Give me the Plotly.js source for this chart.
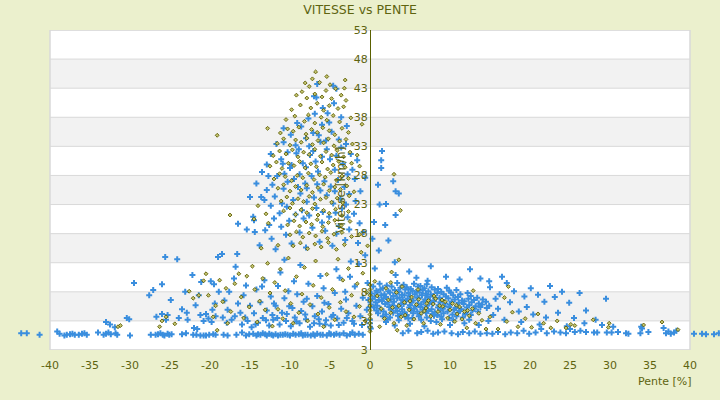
<!DOCTYPE html>
<html>
<head>
<meta charset="utf-8">
<script src="https://cdn.plot.ly/plotly-3.0.1.min.js"></script>
<style>
  html, body {margin: 0; padding: 0; background: #EBF0CD;}
  #graph {width: 720px; height: 400px;}
</style>
</head>
<body>
<div id="graph"></div>
<script>
//axis ticks
const xTicks = [-40, -35, -30, -25, -20, -15, -10, -5, 0, 5, 10, 15, 20, 25, 30, 35, 40]
const yTicks = [-2, 3, 8, 13, 18, 23, 28, 33, 38, 43, 48, 53]
const yTickLabels = ['3', '3', '8', '13', '18', '23', '28', '33', '38', '43', '48', '53']

//blue series, [pente, vitesse]
const blueFloor = [
  [-43.6,0.9],[-42.9,0.9],[-41.3,0.6],[-39.1,1.2],[-38.8,0.8],[-38.2,0.5],[-37.9,0.6],[-37.5,0.7],[-37.2,0.8],[-36.9,0.6],
  [-36.4,0.6],[-36.0,0.8],[-35.7,0.9],[-35.4,0.6],[-34.0,1.0],[-33.3,0.6],[-33.0,0.8],[-32.7,1.0],[-32.4,0.7],[-31.8,0.9],
  [-31.6,0.6],[-30.0,0.5],[-27.4,0.6],[-26.8,0.6],[-26.5,0.7],[-26.2,0.9],[-25.9,0.6],[-25.7,0.5],[-25.3,0.8],[-25.1,0.6],
  [-24.8,0.7],[-23.5,0.7],[-23.0,0.9],[-22.1,0.6],[-21.7,0.6],[-21.2,0.5],[-20.8,0.5],[-20.5,0.5],[-20.1,0.6],[-19.6,0.7],
  [-19.3,0.6],[-18.3,0.6],[-17.8,0.5],[-16.7,0.6],[-16.0,1.0],[-15.5,0.5],[-15.1,0.7],[-14.6,0.8],[-14.2,0.5],[-13.7,0.6],
  [-13.4,0.9],[-12.9,0.5],[-12.3,0.6],[-11.8,0.7],[-11.5,0.5],[-11.2,0.6],[-10.9,0.6],[-10.6,0.7],[-10.3,0.6],[-10.0,0.5],
  [-9.6,0.8],[-9.3,0.6],[-8.9,0.7],[-8.4,0.5],[-8.1,0.6],[-7.8,0.6],[-7.4,0.5],[-7.1,0.7],[-6.6,0.8],[-6.2,0.6],
  [-5.9,0.6],[-5.4,0.5],[-4.9,0.7],[-4.5,0.6],[-4.2,0.8],[-3.8,0.6],[-3.3,0.9],[-2.9,0.5],[-2.5,0.7],[-1.9,0.6],
  [-1.4,0.8],[-0.9,0.6],[-14.0,0.7],[-13.1,0.7],[-12.6,0.8],[-12.1,0.5],[-8.6,0.9],[-6.9,0.5],[-5.1,0.9],[-2.2,1.0],
  [4.1,0.9],[4.8,1.3],[5.9,0.9],[6.4,1.1],[7.2,1.3],[7.9,0.8],[8.5,1.0],[9.3,1.2],[10.2,0.9],[11.0,0.7],
  [11.6,1.1],[12.4,0.9],[13.1,1.2],[13.8,0.8],[14.6,0.9],[15.3,0.8],[16.0,1.1],[16.9,0.7],[17.6,1.0],[18.4,0.9],
  [19.2,1.3],[19.9,0.8],[20.7,1.0],[21.4,1.6],[22.1,0.9],[23.0,1.2],[23.8,1.0],[24.5,0.9],[25.0,1.6],[25.6,1.1],
  [26.3,1.3],[27.0,1.1],[28.0,1.0],[28.4,1.0],[29.6,1.0],[30.2,1.0],[31.0,1.1],[32.0,0.9],[32.3,0.8],[33.8,0.9],
  [34.0,1.7],[34.8,1.1],[36.7,1.8],[37.0,0.9],[37.3,1.2],[37.6,0.8],[38.0,1.0],[38.3,1.3],[40.5,0.8],[41.5,0.8],
  [42.0,0.7],[43.0,0.7],[43.6,0.9]
]
const blueLow = [
  [-33.0,2.8],[-32.5,2.4],[-31.9,1.9],[-30.4,3.5],[-30.1,3.3],[-29.5,9.5],[-27.6,7.4],[-27.1,8.3],[-26.7,3.7],[-26.0,9.3],
  [-26.0,4.2],[-25.6,14.0],[-25.5,3.2],[-25.3,4.0],[-24.9,6.6],[-24.1,13.6],[-23.9,3.5],[-23.5,5.0],[-23.1,8.0],[-22.9,4.4],
  [-22.8,3.2],[-22.2,10.9],[-22.0,1.8],[-21.6,1.6],[-21.4,7.4],[-21.2,4.0],[-21.1,9.7],[-20.8,3.0],[-20.5,4.2],[-20.2,3.4],
  [-19.9,9.8],[-19.7,4.9],[-19.5,9.3],[-19.3,3.8],[-19.0,14.0],[-18.9,8.0],[-18.5,14.5],[-18.4,3.6],[-18.2,6.5],[-17.8,4.9],
  [-17.6,8.0],[-17.3,3.2],[-17.0,10.3],[-16.6,14.5],[-16.5,6.0],[-16.2,4.4],[-16.0,2.4],[-15.8,7.4],[-15.5,9.1],[-15.3,3.0],
  [-15.0,5.6],[-14.8,1.9],[-14.5,4.3],[-14.2,8.4],[-14.0,2.7],[-13.7,6.2],[-13.4,3.5],[-13.2,10.0],[-12.9,4.8],[-12.6,2.2],
  [-12.4,7.2],[-12.1,3.2],[-11.8,5.6],[-11.5,9.0],[-11.3,2.4],[-11.0,4.4],[-10.7,6.9],[-10.5,3.0],[-10.2,8.1],[-9.9,2.1],
  [-9.7,5.2],[-9.4,3.6],[-9.1,7.6],[-8.8,2.6],[-8.6,4.7],[-8.3,6.3],[-8.0,3.3],[-7.7,9.4],[-7.5,2.0],[-7.2,5.5],
  [-6.9,3.8],[-6.6,7.3],[-6.3,2.5],[-6.0,4.6],[-5.8,8.6],[-5.5,3.1],[-5.2,5.9],[-4.9,2.2],[-4.6,4.0],[-4.4,7.8],
  [-4.1,3.4],[-3.8,10.4],[-3.6,5.1],[-3.3,2.7],[-3.0,6.7],[-2.7,4.3],[-2.4,13.2],[-2.2,3.0],[-1.9,8.9],[-1.7,5.6],
  [-1.4,12.8],[-1.2,3.8],[-0.9,7.0],[-0.6,14.3],[-0.4,4.9],[-1.0,2.3],[-0.3,9.5],[-15.6,3.6],[-14.3,2.4],[-13.0,3.1],
  [-12.2,4.0],[-11.6,3.5],[-10.4,4.2],[-9.2,2.9],[-8.1,4.1],[-7.0,2.6],[-6.4,3.3],[-5.6,2.4],[-4.8,3.7],[-3.9,2.3],
  [-2.9,3.5],[-2.0,2.5],[-17.9,2.7],[-19.8,2.8],[-16.9,3.8],[-12.0,6.0],[-10.1,5.5],[-7.9,6.8],[-5.7,6.1],[-13.5,8.9],
  [-9.5,9.8],[-6.2,10.7],[-4.2,11.9],[-8.7,12.6],[-11.2,11.3],[-3.1,8.0],[-2.5,10.6],[-19.4,6.0],[-21.8,5.7],[-16.8,12.3]
]
const bluePeak = [
  [-6.6,43.7],[-7.0,41.6],[-6.7,41.4],[-5.9,39.6],[-5.3,38.7],[-4.6,43.4],[-4.2,42.9],[-7.1,35.3],[-9.1,37.0],[-10.8,36.1],
  [-10.8,33.7],[-12.4,31.7],[-11.1,30.8],[-8.0,34.4],[-7.6,33.0],[-6.2,33.8],[-5.4,32.5],[-4.8,35.5],[-3.9,34.2],[-3.0,33.4],
  [-2.4,31.7],[-1.6,30.6],[-0.6,27.6],[-2.2,29.0],[-3.4,30.0],[-4.4,29.0],[-5.0,30.8],[-6.0,31.2],[-6.8,30.4],[-7.5,31.5],
  [-8.4,30.1],[-9.2,31.8],[-10.0,29.3],[-10.7,28.3],[-11.6,27.9],[-12.2,26.4],[-12.9,25.5],[-11.9,24.4],[-10.8,25.7],[-10.3,26.9],
  [-9.5,27.4],[-8.8,28.2],[-8.1,26.6],[-7.3,27.9],[-6.5,28.7],[-5.7,27.0],[-4.9,26.1],[-4.0,27.2],[-3.2,26.0],[-2.6,24.8],
  [-1.8,23.6],[-1.2,25.3],[-3.7,24.0],[-4.6,23.2],[-5.4,24.6],[-6.2,25.4],[-7.0,24.2],[-7.9,23.5],[-8.7,24.9],[-9.6,23.8],
  [-10.4,22.6],[-11.3,21.5],[-12.0,20.6],[-12.6,19.5],[-13.1,18.6],[-11.1,19.2],[-10.1,20.2],[-9.3,21.3],[-8.5,22.0],[-7.6,21.1],
  [-6.7,22.4],[-5.9,21.7],[-5.1,20.9],[-4.3,21.6],[-3.5,22.3],[-2.8,20.8],[-2.0,21.4],[-1.3,19.8],[-2.6,18.7],[-3.9,19.3],
  [-5.6,18.5],[-7.2,19.0],[-8.8,18.2],[-10.5,17.8],[-12.3,17.1],[-13.8,16.0],[-11.8,15.3],[-9.8,16.3],[-8.0,15.6],[-6.3,16.6],
  [-4.7,15.9],[-3.1,16.9],[-1.5,16.4],[-0.8,18.3],[-14.6,20.9],[-15.4,18.7],[-16.5,19.7],[-9.9,35.0],[-8.6,36.4],[-7.7,37.8],
  [-6.9,38.6],[-6.0,36.7],[-5.1,37.1],[-4.5,40.4],[-3.6,38.0],[-2.9,36.5],[-9.3,33.2],[-10.3,32.0],[-11.7,33.4],[-12.9,29.9],
  [-13.5,28.6],[-12.7,27.9],[-10.9,30.0],[-9.8,29.8],[-8.9,32.5],[-8.0,29.4],[-7.1,32.2],[-6.4,34.9],[-5.5,34.0],[-4.2,31.4],
  [-3.6,32.8],[-2.8,28.2],[-1.9,27.4],[-7.9,25.8],[-6.6,26.5],[-9.0,26.0],[-4.4,25.3],[-3.0,23.0],[-11.0,23.2],[-12.4,22.8],
  [-13.6,24.3],[-14.2,26.6],[-8.3,20.6],[-6.0,19.9],[-4.2,18.0],[-10.7,13.5],[-14.5,20.3],[-14.4,18.3],[-13.2,23.8],[-15.0,24.3],
  [1.5,32.2],[1.4,30.6],[1.4,29.3],[3.2,25.3],[2.9,27.0],[3.6,24.9],[2.0,23.1],[1.2,23.0],[1.9,19.5],[3.2,21.2],
  [2.3,16.8],[1.1,15.1],[3.1,13.1],[4.9,11.5],[0.6,12.0],[0.5,20.0],[1.0,26.4],[12.5,11.9],[7.6,12.4],[0.3,17.1]
]
const blueRight = [
  [1.2,9.4],[2.1,9.1],[3.4,9.5],[4.2,9.2],[5.5,9.4],[6.3,9.0],[7.1,9.3],
  [0.4,8.9],[1.6,8.6],[2.7,8.9],[3.8,8.7],[4.6,8.8],[5.1,8.5],[6.0,8.9],[6.8,8.6],[7.7,8.8],[8.5,8.5],[9.6,8.7],
  [0.8,8.2],[1.3,8.4],[2.3,8.1],[3.1,8.3],[3.6,8.0],[4.4,8.4],[5.3,8.2],[5.8,8.0],[6.6,8.3],[7.3,8.1],[8.1,8.4],[8.9,8.0],[9.9,8.2],[10.8,8.3],
  [0.2,7.7],[0.9,7.9],[1.8,7.6],[2.5,7.9],[3.3,7.7],[4.0,7.5],[4.8,7.8],[5.6,7.6],[6.2,7.9],[7.0,7.7],[7.6,7.5],[8.4,7.8],[9.2,7.6],[10.1,7.9],[11.3,7.6],[12.2,7.8],
  [0.6,7.2],[1.4,7.4],[2.0,7.1],[2.9,7.3],[3.7,7.0],[4.3,7.4],[5.0,7.2],[5.9,7.0],[6.5,7.4],[7.2,7.1],[7.9,7.3],[8.7,7.0],[9.5,7.2],[10.4,7.4],[11.0,7.1],[12.6,7.3],[13.4,7.0],
  [0.3,6.8],[1.1,6.6],[1.7,6.9],[2.6,6.7],[3.4,6.9],[4.1,6.6],[4.7,6.8],[5.4,6.5],[6.1,6.9],[6.9,6.7],[7.5,6.5],[8.2,6.8],[9.0,6.6],[9.8,6.9],[10.6,6.7],[11.5,6.5],[12.3,6.8],[13.0,6.6],[14.1,6.7],
  [0.7,6.2],[1.5,6.4],[2.2,6.1],[3.0,6.3],[3.9,6.0],[4.5,6.4],[5.2,6.2],[6.0,6.0],[6.7,6.3],[7.4,6.1],[8.0,6.4],[8.8,6.2],[9.4,6.0],[10.2,6.3],[11.1,6.1],[11.8,6.4],[12.7,6.2],[13.6,6.0],[14.5,6.3],
  [0.1,5.8],[0.9,5.6],[1.9,5.9],[2.8,5.7],[3.5,5.5],[4.2,5.9],[5.0,5.7],[5.7,5.5],[6.4,5.8],[7.1,5.6],[7.8,5.9],[8.6,5.7],[9.3,5.5],[10.0,5.8],[10.9,5.6],[11.7,5.9],[12.4,5.7],[13.2,5.5],[14.0,5.8],[14.9,5.6],
  [0.5,5.3],[1.3,5.1],[2.4,5.4],[3.2,5.2],[4.0,5.0],[4.9,5.3],[5.5,5.1],[6.3,5.4],[7.0,5.2],[7.7,5.0],[8.5,5.3],[9.1,5.1],[9.9,5.4],[10.7,5.2],[11.4,5.0],[12.1,5.3],[13.0,5.1],[13.8,5.4],[14.6,5.2],
  [0.8,4.8],[1.7,4.6],[2.6,4.9],[3.4,4.7],[4.3,4.5],[5.1,4.8],[5.9,4.6],[6.6,4.9],[7.3,4.7],[8.1,4.5],[8.8,4.8],[9.7,4.6],[10.5,4.9],[11.2,4.7],[12.0,4.5],[12.8,4.8],[13.5,4.6],
  [1.0,4.3],[2.0,4.1],[2.9,4.4],[3.8,4.2],[4.6,4.0],[5.4,4.3],[6.2,4.1],[7.0,4.4],[7.8,4.2],[8.4,4.0],[9.2,4.3],[10.3,4.1],[11.0,4.4],[11.9,4.2],[12.6,4.0],
  [1.6,3.8],[2.5,3.6],[3.5,3.9],[4.4,3.7],[5.3,3.5],[6.1,3.8],[7.1,3.6],[8.0,3.9],[8.9,3.7],[9.9,3.5],[10.8,3.8],[11.6,3.6],
  [2.2,3.3],[3.6,3.1],[4.8,3.4],[6.4,3.2],[7.6,3.0],[9.0,3.3],[10.4,3.1],[12.4,3.2],
  [15.0,8.8],[17.1,9.5],[22.5,9.0],[24.0,8.0],[29.5,6.8],[16.2,7.6],[18.0,8.1],[19.3,7.2],[20.1,8.6],[21.0,7.5],
  [19.6,5.4],[21.8,6.3],[23.1,7.1],[24.9,6.1],[26.2,7.8],[17.5,6.2],[16.0,5.1],[18.6,4.6],[20.4,4.1],[22.0,3.6],
  [23.5,4.4],[25.5,3.5],[27.0,4.8],[28.2,3.2],[15.4,4.0],[16.8,3.2],[18.9,2.8],[21.2,2.4],[24.6,2.1],[26.8,2.6],
  [29.0,2.3],[30.4,2.0],[33.9,2.0],[15.7,6.8],[14.9,9.8],[16.5,10.6],[13.8,10.3],[11.2,10.1],[9.5,10.6],[5.8,10.4],
  [3.2,10.9],[7.2,9.9],[2.0,2.8],[3.1,2.2],[5.0,2.5],[6.8,2.1],[8.3,2.8],[10.0,2.3],[11.8,2.6],[13.6,2.3],
  [14.8,3.0],[0.0,2.0],[0.0,2.6],[0.0,3.2],[0.1,1.7],[0.0,5.4],[-0.2,6.6]
]

//olive series, [pente, vitesse]
const olivePeak = [
  [-6.8,45.8],[-7.2,44.6],[-5.4,45.0],
  [-8.1,43.9],[-7.6,43.3],[-6.3,44.0],[-5.0,43.6],[-4.3,42.9],[-3.1,44.4],[-3.2,43.0],
  [-9.2,41.8],[-8.5,42.4],[-7.9,41.3],[-6.9,42.0],[-6.0,41.5],[-5.5,42.6],[-4.8,41.2],[-3.0,40.9],[-3.6,41.8],
  [-9.8,39.3],[-8.7,40.1],[-7.4,39.6],[-6.6,40.4],[-5.8,39.2],[-5.1,40.0],[-4.0,39.5],[-3.3,39.8],
  [-10.5,37.6],[-9.4,38.2],[-8.2,37.3],[-7.7,38.4],[-6.9,37.0],[-6.1,38.0],[-5.4,37.5],[-4.6,38.3],[-3.8,37.2],[-2.4,37.9],[-1.0,36.8],[-12.8,36.1],[-19.1,34.9],
  [-11.2,35.3],[-10.3,36.0],[-9.6,35.6],[-8.9,36.3],[-8.0,35.1],[-7.3,35.9],[-6.6,35.4],[-5.9,36.2],[-5.1,35.7],[-4.4,35.0],[-3.5,36.1],[-2.7,35.4],
  [-11.6,33.5],[-10.8,34.3],[-10.0,33.2],[-9.3,34.1],[-8.6,33.7],[-7.9,34.4],[-7.2,33.3],[-6.5,34.0],[-5.8,33.6],[-5.2,34.3],[-4.5,33.1],[-3.8,33.9],[-3.0,34.2],[-2.2,33.4],
  [-12.1,31.4],[-11.3,32.2],[-10.5,31.7],[-9.7,32.4],[-9.0,31.2],[-8.3,32.0],[-7.6,31.6],[-6.9,32.5],[-6.2,31.3],[-5.5,32.1],[-4.8,31.5],[-4.1,32.3],[-3.3,31.2],[-2.5,32.0],[-1.6,31.5],
  [-12.5,29.6],[-11.7,30.3],[-11.0,29.2],[-10.2,30.1],[-9.5,29.7],[-8.8,30.4],[-8.1,29.3],[-7.4,30.0],[-6.7,29.5],[-6.0,30.3],[-5.3,29.1],[-4.6,29.8],[-3.9,30.4],[-3.1,29.4],[-2.3,30.1],[-1.3,29.6],
  [-12.0,27.4],[-11.3,28.3],[-10.6,27.8],[-9.8,27.1],[-9.1,28.0],[-8.4,27.6],[-7.7,28.4],[-7.0,27.3],[-6.3,28.1],[-5.6,27.7],[-4.9,28.5],[-4.2,27.2],[-3.5,27.9],[-2.7,27.5],[3.0,28.2],
  [-11.5,25.8],[-10.8,26.4],[-10.0,25.3],[-9.3,26.1],[-8.6,25.5],[-7.9,26.3],[-7.2,25.1],[-6.5,25.9],[-5.8,26.5],[-5.1,25.4],[-4.4,26.0],[-3.7,25.6],[-2.9,26.2],[-2.0,25.2],
  [-11.1,23.6],[-10.4,24.3],[-9.7,23.2],[-9.0,24.0],[-8.3,23.5],[-7.6,24.4],[-6.9,23.1],[-6.2,23.9],[-5.5,24.2],[-4.8,23.4],[-4.1,24.1],[-3.4,23.3],[-2.6,24.5],
  [-10.8,21.9],[-10.0,22.4],[-9.3,21.3],[-8.6,22.1],[-7.9,21.6],[-7.2,22.3],[-6.5,21.2],[-5.8,22.0],[-5.1,21.5],[-4.3,22.2],[-3.5,21.1],[-2.7,21.8],[-17.5,21.2],[-14.0,22.8],[-13.0,21.4],[3.8,22.0],
  [-10.3,19.5],[-9.5,20.2],[-8.8,19.3],[-8.0,20.0],[-7.3,19.6],[-6.6,20.4],[-5.9,19.2],[-5.2,19.9],[-4.4,20.3],[-3.6,19.4],[-2.5,20.1],[-12.7,19.8],[-14.5,20.5],
  [-10.0,17.8],[-9.2,18.3],[-8.4,17.4],[-7.6,18.1],[-6.8,17.6],[-6.0,18.4],[-5.3,17.2],[-4.5,17.9],[-3.5,18.2],[-2.3,17.5],[-1.3,17.9],
  [-9.6,15.9],[-8.7,16.4],[-7.8,15.4],[-6.9,16.2],[-6.1,15.7],[-5.2,16.5],[-4.2,15.3],[-3.2,16.1],[-11.5,16.0],[-13.6,15.5]
]
const oliveLow = [
  [-31.5,2.0],[-31.2,2.2],[-26.3,2.0],[-26.0,3.0],[-25.5,3.7],[-24.4,2.5],[-22.6,8.1],[-22.1,6.9],[-21.4,7.4],[-20.8,9.9],
  [-20.5,11.1],[-20.2,7.4],[-19.6,3.7],[-19.3,5.6],[-19.1,1.4],[-18.8,10.0],[-18.4,6.3],[-18.0,8.6],[-17.8,2.6],[-17.4,4.6],
  [-16.9,9.4],[-16.4,11.1],[-16.1,7.1],[-15.8,3.5],[-15.4,10.7],[-15.1,5.4],[-14.7,12.4],[-14.4,8.4],[-14.1,2.8],[-13.8,6.4],
  [-13.4,10.3],[-13.1,4.9],[-12.8,12.9],[-12.5,7.8],[-12.2,2.1],[-11.9,9.6],[-11.5,5.0],[-11.2,11.9],[-10.9,3.4],[-10.6,8.2],
  [-10.2,13.8],[-9.9,6.0],[-9.6,2.6],[-9.2,10.6],[-8.9,4.4],[-8.5,7.6],[-8.2,12.2],[-7.8,3.0],[-7.5,5.8],[-7.1,9.1],
  [-6.8,13.3],[-6.5,4.2],[-6.1,7.0],[-5.8,2.0],[-5.4,11.0],[-5.1,5.3],[-4.7,8.4],[-4.4,3.2],[-4.0,13.6],[-3.7,6.2],
  [-3.4,10.0],[-3.0,4.6],[-2.7,12.0],[-2.3,7.4],[-2.0,3.7],[-1.6,9.4],[-1.3,5.5],[-0.9,11.2],[-0.6,3.0],[-0.4,7.9],
  [-1.1,14.8],[0.0,1.2],[0.0,1.9],[0.0,2.6],[0.0,3.4],[0.0,4.1],[0.0,4.8],[0.0,5.6],[0.0,6.5],[0.0,7.4],
  [0.0,8.4],[0.0,9.2]
]
const oliveRight = [
  [0.9,7.3],[1.4,5.1],[1.8,3.4],[2.3,6.6],[2.6,4.4],[3.0,2.6],[3.3,7.9],[3.6,5.6],[3.9,3.7],[4.3,6.2],
  [4.6,2.2],[4.9,4.9],[5.2,7.1],[5.5,3.3],[5.8,5.8],[6.1,6.7],[6.4,4.3],[6.7,2.6],[7.0,5.2],[7.3,6.5],
  [7.6,3.8],[7.9,5.9],[8.2,6.8],[8.5,4.6],[8.8,2.4],[9.1,5.5],[9.4,6.3],[9.7,3.5],[10.0,4.9],[10.3,6.0],
  [10.6,2.9],[10.9,4.2],[11.2,5.4],[11.5,3.3],[11.8,4.6],[12.1,1.8],[12.4,3.9],[12.8,5.1],[13.2,2.6],[13.6,4.3],
  [14.0,3.1],[14.5,1.6],[15.0,3.7],[2.0,8.6],[4.0,8.9],[6.0,8.4],[1.2,2.0],[3.4,1.4],[5.0,6.4],[7.1,6.0],
  [8.0,7.3],[9.0,6.6],[2.8,5.3],[4.4,4.0],[6.8,4.7],[8.7,5.6],[10.8,5.7],[12.2,4.8],[16.0,1.6],[17.1,2.9],
  [17.8,4.5],[18.5,2.0],[19.4,3.4],[20.2,1.9],[21.0,4.2],[21.7,2.6],[22.6,1.8],[23.4,3.0],[24.5,1.8],[25.1,2.4],
  [25.6,2.2],[27.9,3.2],[29.8,1.9],[29.9,2.6],[34.2,2.3],[36.5,2.8],[38.5,1.5],[12.9,8.2],[16.8,7.0],[17.3,8.9],
  [-0.3,15.9],[0.6,9.8],[3.6,13.5],[2.7,11.4],[2.6,9.6]
]

const bluePts = blueFloor.concat(blueLow, bluePeak, blueRight)
const olivePts = olivePeak.concat(oliveLow, oliveRight)

const textColor = '#5E6410'
const gridColor = '#D9D9D9'
//x range is wider than the framed area so that points just outside it stay visible
const xMin = -46.25
const xMax = 43.75
const yMin = -2
const yMax = 53

//traces
const blueTrace = {
  x: bluePts.map(p => p[0]),
  y: bluePts.map(p => p[1]),
  type: 'scatter',
  mode: 'markers',
  cliponaxis: false,
  hoverinfo: 'skip',
  marker: {symbol: 'cross', size: 5, color: '#3A8EDE', line: {width: 0}}
}
const oliveTrace = {
  x: olivePts.map(p => p[0]),
  y: olivePts.map(p => p[1]),
  type: 'scatter',
  mode: 'markers',
  cliponaxis: false,
  hoverinfo: 'skip',
  marker: {symbol: 'diamond', size: 3, color: '#C4C470', line: {color: '#5C5C00', width: 0.9}}
}

//white frame, grey bands every other tick interval, grid lines, border
const xLeft = xTicks[0]
const xRight = xTicks[xTicks.length - 1]
const shapes = [{
  type: 'rect', layer: 'below', xref: 'x', yref: 'y',
  x0: xLeft, x1: xRight, y0: yMin, y1: yMax,
  fillcolor: '#FFFFFF', line: {width: 0}
}]
for (let i = 1; i < yTicks.length - 1; i += 2) {
  shapes.push({
    type: 'rect', layer: 'below', xref: 'x', yref: 'y',
    x0: xLeft, x1: xRight, y0: yTicks[i], y1: yTicks[i + 1],
    fillcolor: '#F2F2F2', line: {width: 0}
  })
}
yTicks.forEach(t => {
  shapes.push({
    type: 'line', layer: 'below', xref: 'x', yref: 'y',
    x0: xLeft, x1: xRight, y0: t, y1: t,
    line: {color: gridColor, width: 1}
  })
})
shapes.push({
  type: 'rect', layer: 'below', xref: 'x', yref: 'y',
  x0: xLeft, x1: xRight, y0: yMin, y1: yMax,
  line: {color: gridColor, width: 1.5}
})

const layout = {
  width: 720,
  height: 400,
  paper_bgcolor: '#EBF0CD',
  plot_bgcolor: 'rgba(0,0,0,0)',
  font: {family: 'DejaVu Sans, sans-serif', size: 11, color: textColor},
  showlegend: false,
  margin: {l: 0, r: 0, t: 30, b: 50},
  title: {
    text: 'VITESSE vs PENTE',
    font: {size: 12.5, color: textColor},
    x: 0.5, xanchor: 'center',
    y: 0.975, yanchor: 'middle', yref: 'container'
  },
  xaxis: {
    range: [xMin, xMax],
    tickvals: xTicks,
    ticktext: xTicks.map(String),
    showgrid: false,
    zeroline: false,
    showline: false,
    ticks: '',
    ticklabelstandoff: 7,
    tickfont: {size: 11, color: textColor}
  },
  yaxis: {
    range: [yMin, yMax],
    tickvals: yTicks,
    ticktext: yTickLabels,
    anchor: 'free',
    position: (0 - xMin) / (xMax - xMin),
    showline: true,
    linecolor: '#5A6000',
    linewidth: 1,
    showgrid: false,
    zeroline: false,
    ticks: '',
    tickfont: {size: 11, color: textColor},
    title: {text: 'Vitesse [km/h]', font: {size: 12, color: textColor}, standoff: 4}
  },
  shapes: shapes,
  annotations: [{
    text: 'Pente [%]',
    xref: 'paper', yref: 'paper',
    x: 665 / 720, y: -0.097,
    xanchor: 'center', yanchor: 'middle',
    showarrow: false,
    font: {size: 11, color: textColor}
  }]
}

Plotly.newPlot('graph', [blueTrace, oliveTrace], layout, {displayModeBar: false, staticPlot: true})
</script>
</body>
</html>
